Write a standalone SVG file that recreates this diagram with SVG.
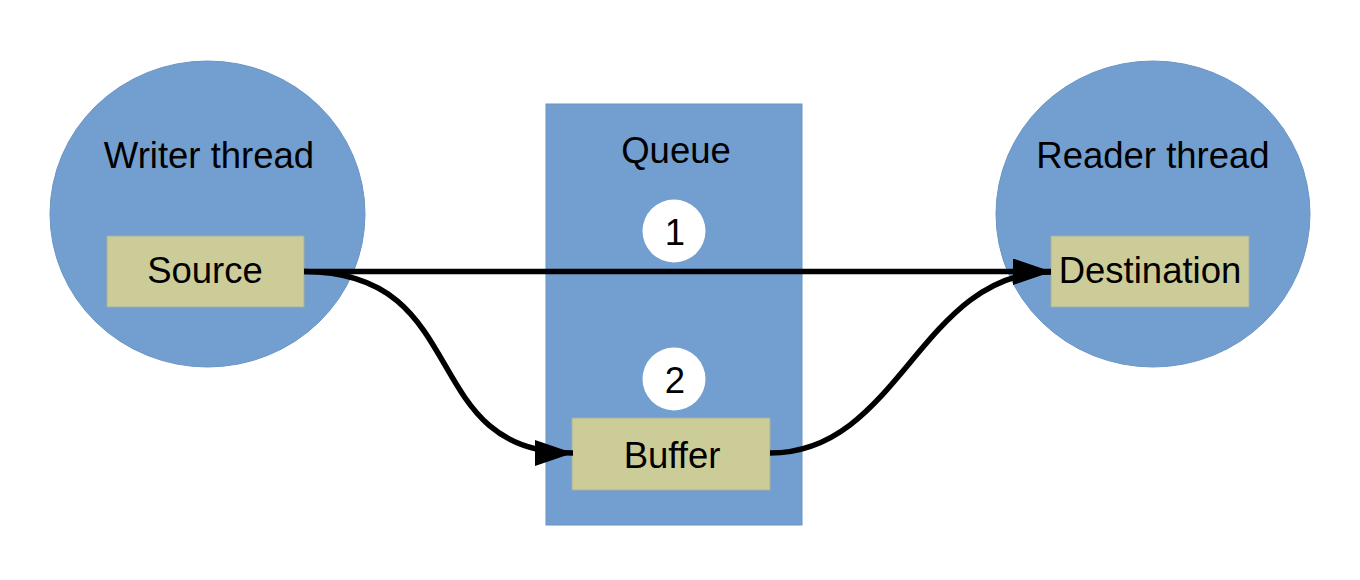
<svg xmlns="http://www.w3.org/2000/svg" width="1360" height="580" viewBox="0 0 1360 580">
<style>
.bg{fill:#729fcf;stroke:#6a95c4;stroke-width:1}
.box{fill:#cccc99;stroke:#a9b0a0;stroke-width:1}
.num{fill:#ffffff}
text{font-family:"Liberation Sans",Arial,sans-serif;fill:#000;text-anchor:middle}
.t{font-size:36.5px}
.c{stroke:#000;stroke-width:5.5;fill:none}
</style>
<defs>
<marker id="ah" markerUnits="userSpaceOnUse" markerWidth="40" markerHeight="28" refX="38" refY="13" orient="auto">
<path d="M0,0 L38,13 L0,26 z" fill="#000"/>
</marker>
</defs>
<rect width="1360" height="580" fill="#fff"/>
<g id="writer">
<ellipse class="bg" cx="207.5" cy="214" rx="157.5" ry="153"/>
<text class="t" x="209" y="168">Writer thread</text>
</g>
<g id="queue">
<rect class="bg" x="546" y="104" width="256" height="421"/>
<text class="t" x="676" y="163">Queue</text>
</g>
<g id="reader">
<ellipse class="bg" cx="1153" cy="214" rx="157" ry="153"/>
<text class="t" x="1153" y="168">Reader thread</text>
</g>
<g id="step1">
<circle class="num" cx="674" cy="231" r="31.5"/>
<text class="t" x="675" y="245">1</text>
</g>
<g id="step2">
<circle class="num" cx="674" cy="379" r="31.5"/>
<text class="t" x="675" y="393">2</text>
</g>
<g id="source">
<rect class="box" x="107" y="236" width="197" height="71"/>
<text class="t" x="205" y="283">Source</text>
</g>
<g id="buffer">
<rect class="box" x="572" y="418" width="198" height="72"/>
<text class="t" x="672" y="468">Buffer</text>
</g>
<g id="destination">
<rect class="box" x="1051" y="236" width="198" height="71"/>
<text class="t" x="1150" y="283">Destination</text>
</g>
<g id="connectors">
<path class="c" d="M304,271.5 L1051,271.5" marker-end="url(#ah)"/>
<path class="c" d="M304,271.5 C475,271.5 415,453 573,453" marker-end="url(#ah)"/>
<path class="c" d="M770,453 C900,453 920,272 1051,272" marker-end="url(#ah)"/>
</g>
</svg>
